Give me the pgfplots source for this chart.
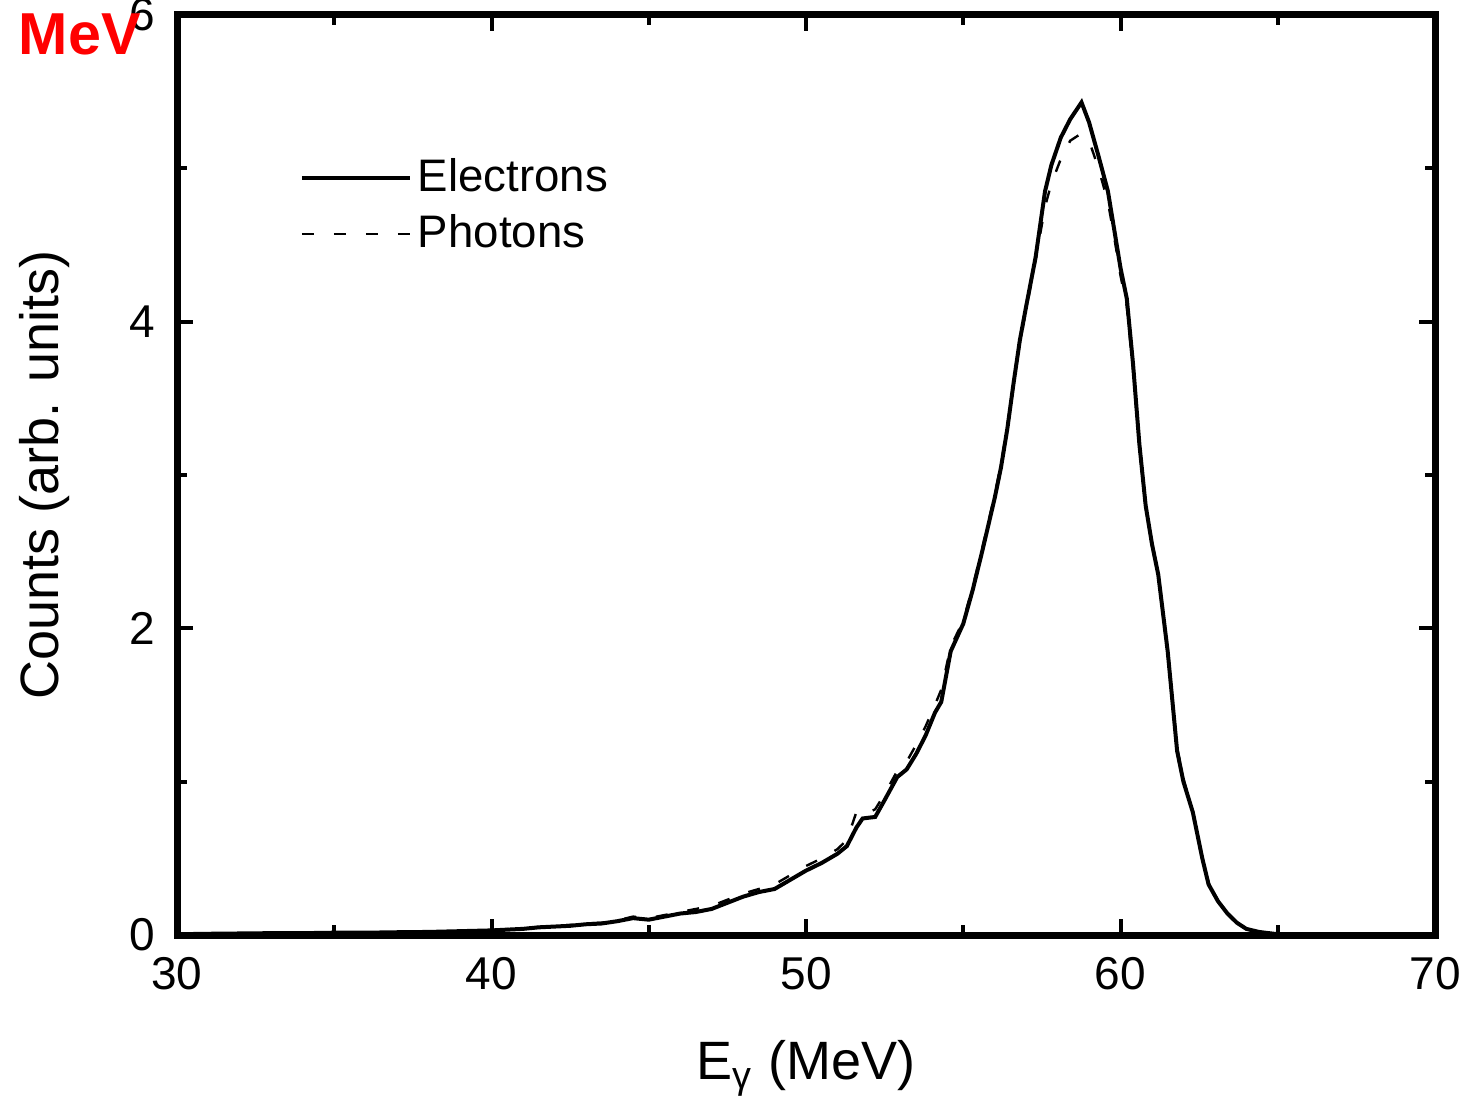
\documentclass[border=0pt]{standalone}
\usepackage{pgfplots}
\pgfplotsset{compat=1.18}
\usepackage{fontspec}
\setmainfont{Liberation Sans}

\begin{document}
\begin{tikzpicture}
\begin{axis}[
  name=ax,
  scale only axis,
  width=314.5pt, height=230pt,
  xmin=30, xmax=70, ymin=0, ymax=6,
  xtick={30,40,50,60,70}, ytick={0,2,4,6},
  minor x tick num=1, minor y tick num=1,
  tick pos=both, tick align=inside,
  major tick length=4pt, minor tick length=2.5pt,
  every tick/.style={black, line width=1pt},
  axis line style={line width=1.75pt},
  /pgf/number format/assume math mode=true,
  ticklabel style={font=\fontsize{11.5}{13}\selectfont},
  xticklabel style={yshift=-2pt},
  yticklabel style={xshift=-2pt},
  xlabel={E\textsubscript{γ} (MeV)},
  ylabel={Counts (arb. units)},
  label style={font=\fontsize{13.5}{15}\selectfont},
  xlabel style={at={(axis description cs:0.5,-0.1576)}, anchor=base},
  ylabel style={at={(axis description cs:-0.105,0.5)}, anchor=center},
  legend image code/.code={\draw[#1] (0pt,0pt) -- (27pt,0pt);},
  legend style={at={(axis cs:33.5,5.16)}, anchor=north west, draw=none, fill=none,
    font=\fontsize{11.4}{13}\selectfont, row sep=1.2pt,
    nodes={inner sep=1.5pt}},
  legend cell align=left,
]
\addplot[black, line width=1pt] coordinates {
(30,0.005) (31,0.008) (32,0.01) (33,0.012) (34,0.012) (35,0.015) (36,0.015)
(37,0.018) (38,0.02) (39,0.025) (40,0.03) (40.5,0.035) (41,0.04) (41.5,0.05)
(42,0.055) (42.5,0.06) (43,0.07) (43.5,0.075) (44,0.09) (44.5,0.11) (45,0.1)
(45.5,0.12) (46,0.14) (46.5,0.15) (47,0.17) (47.5,0.21) (48,0.25) (48.5,0.28)
(49,0.3) (49.5,0.36) (50,0.42) (50.5,0.47) (51,0.53) (51.3,0.58) (51.6,0.7)
(51.8,0.76) (52.2,0.77) (52.5,0.88) (52.9,1.03) (53.2,1.08) (53.5,1.18)
(53.8,1.3) (54.1,1.45) (54.3,1.52) (54.6,1.85) (55.0,2.03) (55.3,2.25)
(55.6,2.5) (56.0,2.85) (56.2,3.05) (56.4,3.3) (56.6,3.6) (56.8,3.88)
(57.0,4.1) (57.3,4.42) (57.6,4.85) (57.8,5.02) (58.1,5.2) (58.4,5.32)
(58.76,5.43) (59.0,5.3) (59.3,5.08) (59.6,4.85) (59.8,4.6) (60.0,4.35)
(60.2,4.15) (60.4,3.72) (60.6,3.2) (60.8,2.8) (61.0,2.55) (61.2,2.35)
(61.5,1.85) (61.8,1.2) (62.0,1.0) (62.3,0.8) (62.6,0.5) (62.8,0.33)
(63.1,0.22) (63.4,0.14) (63.7,0.08) (64.0,0.04) (64.4,0.02) (65,0.005)
(66,0) (70,0)
};
\addlegendentry{Electrons}
\addplot[black, line width=0.6pt, dash pattern=on 3pt off 5pt] coordinates {
(30,0.004) (31,0.007) (32,0.01) (33,0.011) (34,0.013) (35,0.014) (36,0.016)
(37,0.019) (38,0.022) (39,0.026) (40,0.032) (40.5,0.038) (41,0.045) (41.5,0.052)
(42,0.058) (42.5,0.066) (43,0.075) (43.5,0.08) (44,0.095) (44.5,0.12) (45,0.11)
(45.5,0.13) (46,0.15) (46.5,0.17) (47,0.19) (47.5,0.23) (48,0.27) (48.5,0.3)
(49,0.33) (49.5,0.39) (50,0.45) (50.5,0.5) (51,0.56) (51.3,0.62) (51.6,0.8)
(51.8,0.78) (52.2,0.82) (52.5,0.92) (52.9,1.07) (53.2,1.13) (53.5,1.24)
(53.8,1.36) (54.1,1.5) (54.3,1.6) (54.6,1.88) (55.0,2.05) (55.3,2.27)
(55.6,2.52) (56.0,2.87) (56.2,3.07) (56.4,3.32) (56.6,3.6) (56.8,3.86)
(57.0,4.08) (57.3,4.4) (57.6,4.75) (57.8,4.9) (58.1,5.06) (58.4,5.18)
(58.7,5.22) (59.0,5.18) (59.3,5.0) (59.6,4.78) (59.8,4.55) (60.0,4.3)
(60.2,4.1) (60.4,3.68) (60.6,3.18) (60.8,2.8) (61.0,2.56) (61.2,2.36)
(61.5,1.86) (61.8,1.22) (62.0,1.02) (62.3,0.8) (62.6,0.5) (62.8,0.34)
(63.1,0.22) (63.4,0.14) (63.7,0.08) (64.0,0.04) (64.4,0.02) (65,0.005)
(66,0) (70,0)
};
\addlegendentry{Photons}
\end{axis}
\node[anchor=base west, inner sep=0pt, text=red, font=\bfseries\fontsize{14.8}{16}\selectfont]
  at ([xshift=-39.75pt, yshift=-10pt]ax.north west) {MeV};
\pgfresetboundingbox
\path[use as bounding box] ([xshift=-44.25pt,yshift=-43.75pt]ax.south west)
  rectangle ([xshift=6.25pt,yshift=3.75pt]ax.north east);
\end{tikzpicture}
\end{document}
